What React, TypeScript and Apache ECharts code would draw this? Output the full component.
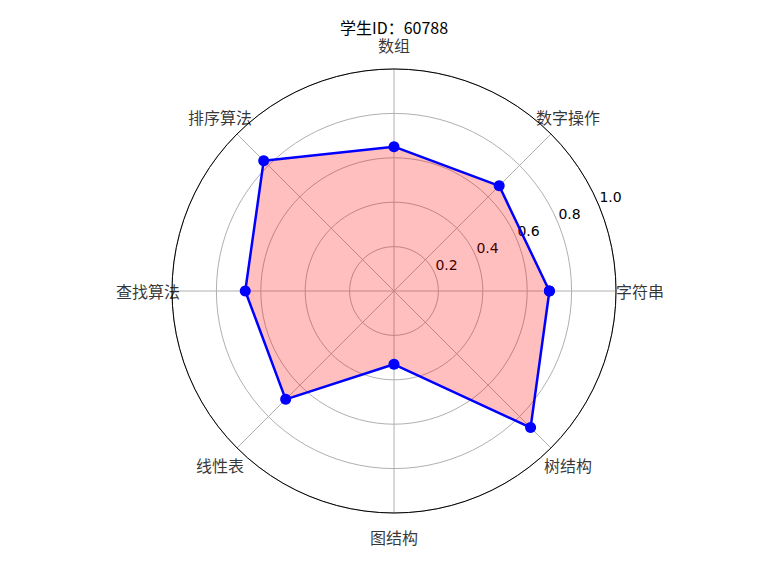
import React, { useEffect, useRef } from 'react';
import * as echarts from 'echarts';

const titleText = '学生ID：60788';
const categories = ['字符串', '数字操作', '数组', '排序算法', '查找算法', '线性表', '图结构', '树结构'];
const values = [0.70, 0.67, 0.65, 0.83, 0.67, 0.69, 0.33, 0.87];
const radialTicks = [0.2, 0.4, 0.6, 0.8, 1.0];

export default function App() {
  const ref = useRef<HTMLDivElement>(null);
  useEffect(() => {
    document.body.style.margin = '0';
    const chart = echarts.init(ref.current!, null, { renderer: 'svg' });
    const step = 360 / categories.length;
    const lineData: number[][] = values.map((v, i) => [v, i * step]);
    lineData.push([values[0], 360]);
    const labelData = categories.map((c, i) => ({ value: [1, i * step], name: c }));
    const center = [394, 291];
    const cjk = 'Noto Sans CJK SC';
    const tickInterval = radialTicks[1] - radialTicks[0];

    chart.setOption({
      animation: false,
      backgroundColor: '#ffffff',
      graphic: [
        {
          type: 'text',
          x: 394,
          y: 26.5,
          style: {
            text: titleText,
            align: 'center',
            verticalAlign: 'middle',
            fontSize: 16,
            fontFamily: cjk,
            fill: '#000',
          },
        },
      ],
      polar: [
        { center, radius: 222 },
        { center, radius: 222 },
        { center, radius: 246 },
      ],
      angleAxis: [
        {
          polarIndex: 0,
          type: 'value',
          min: 0,
          max: 360,
          interval: 45,
          startAngle: 0,
          clockwise: false,
          axisLine: { show: true, lineStyle: { color: '#000000', width: 1 } },
          axisTick: { show: false },
          axisLabel: { show: false },
          splitLine: { show: true, lineStyle: { color: '#b0b0b0', width: 1 } },
        },
        {
          polarIndex: 1,
          type: 'value',
          min: 0,
          max: 360,
          startAngle: 22.5,
          clockwise: false,
          show: false,
        },
        {
          polarIndex: 2,
          type: 'value',
          min: 0,
          max: 360,
          startAngle: 0,
          clockwise: false,
          show: false,
        },
      ],
      radiusAxis: [
        {
          polarIndex: 0,
          type: 'value',
          min: 0,
          max: 1,
          interval: tickInterval,
          axisLine: { show: false },
          axisTick: { show: false },
          axisLabel: { show: false },
          splitLine: { show: true, lineStyle: { color: '#b0b0b0', width: 1 } },
        },
        {
          polarIndex: 1,
          type: 'value',
          min: 0,
          max: 1,
          interval: tickInterval,
          axisLine: { show: false },
          axisTick: { show: false },
          splitLine: { show: false },
          axisLabel: {
            show: true,
            margin: 0,
            align: 'center',
            verticalAlign: 'bottom',
            padding: [0, 0, 2, 23],
            fontSize: 14,
            fontFamily: 'DejaVu Sans',
            color: '#000',
            formatter: (v: number) => {
              const t = radialTicks.find((x) => Math.abs(x - v) < 1e-6);
              return t === undefined ? '' : t.toFixed(1);
            },
          },
        },
        {
          polarIndex: 2,
          type: 'value',
          min: 0,
          max: 1,
          show: false,
        },
      ],
      series: [
        {
          type: 'line',
          coordinateSystem: 'polar',
          polarIndex: 0,
          data: lineData,
          symbol: 'circle',
          symbolSize: 11,
          itemStyle: { color: '#0000ff' },
          lineStyle: { color: '#0000ff', width: 2.5 },
          areaStyle: { color: 'rgba(255,0,0,0.25)', opacity: 1 },
          z: 3,
          clip: false,
        },
        {
          type: 'scatter',
          coordinateSystem: 'polar',
          polarIndex: 2,
          data: labelData,
          symbolSize: 1,
          itemStyle: { color: 'rgba(0,0,0,0)' },
          silent: true,
          clip: false,
          label: {
            show: true,
            position: 'inside',
            formatter: (p: any) => p.name,
            fontSize: 16,
            fontFamily: cjk,
            color: '#000',
            textBorderWidth: 0,
          },
        },
      ],
    });
    return () => chart.dispose();
  }, []);
  return <div ref={ref} style={{ position: 'fixed', left: 0, top: 0, width: 768, height: 576 }} />;
}
